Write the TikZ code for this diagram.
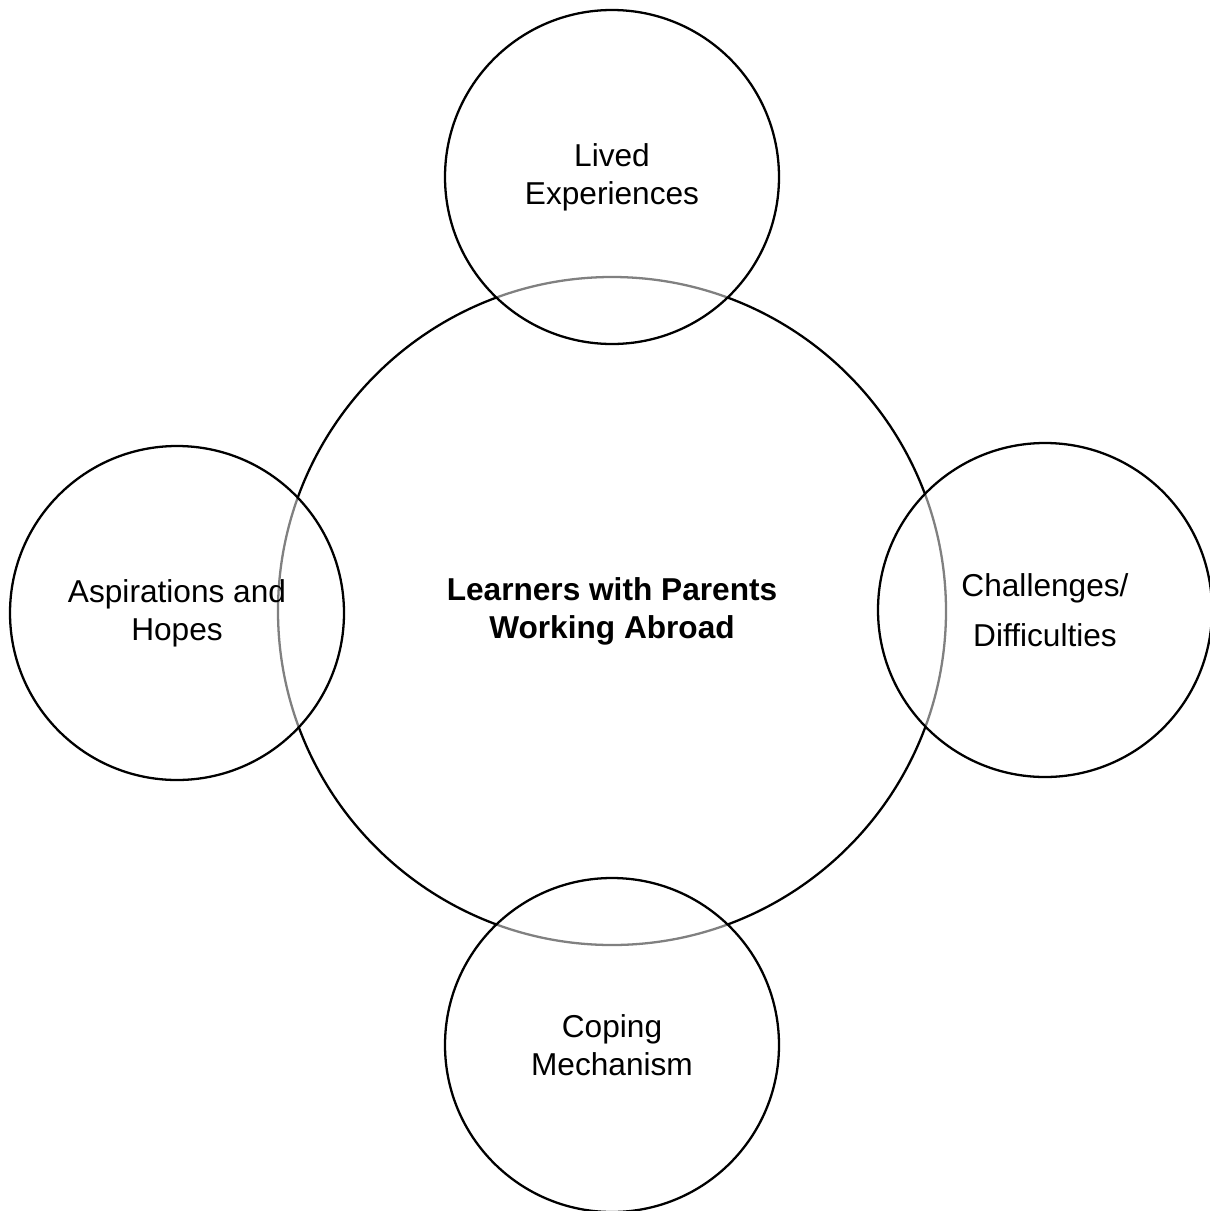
\documentclass[tikz,border=0pt]{standalone}
\usepackage{fontspec}
\setmainfont{Liberation Sans}
\usetikzlibrary{calc}

\begin{document}
\begin{tikzpicture}[x=.2mm, y=-.2mm,
 core/.style={circle, draw, line width=1.3pt, minimum size=668*.2mm, inner sep=0},
 theme/.style={circle, draw, line width=1.3pt, minimum size=334*.2mm, inner sep=0,
   fill=white, fill opacity=.5, draw opacity=1, text opacity=1, align=center},
 lbl/.style={font=\fontsize{18}{21.5}\selectfont}]
\useasboundingbox (0,0) rectangle (1209,1211);
\node[core, font=\fontsize{18}{21.5}\selectfont\bfseries, align=center] (learners) at (612,611) {Learners with Parents\\Working Abroad};
\node[theme, lbl] (lived) at (612,177) {Lived\\Experiences};
\node[theme, lbl] (aspire) at (177,613) {Aspirations and\\Hopes};
\node[theme, font=\fontsize{18}{28.5}\selectfont] (challenge) at (1045,610) {Challenges/\\Difficulties};
\node[theme, lbl] (coping) at (612,1045) {Coping\\Mechanism};
\end{tikzpicture}
\end{document}
